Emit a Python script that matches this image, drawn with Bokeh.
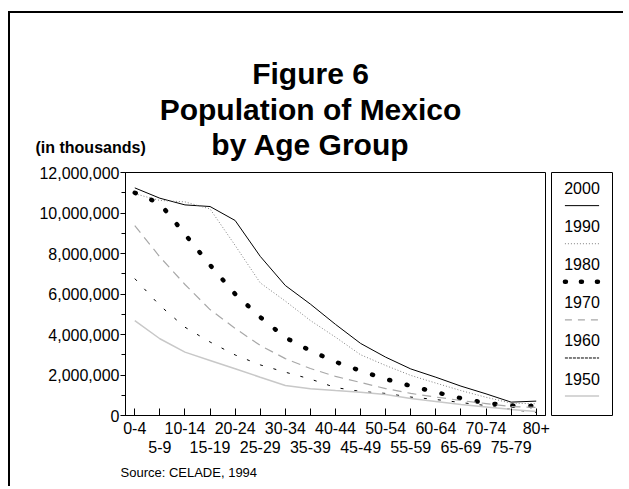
from bokeh.plotting import figure
from bokeh.layouts import row, column
from bokeh.models import LinearAxis, FixedTicker, NumeralTickFormatter, Range1d
from bokeh.core.properties import value
from bokeh.embed import file_html
from bokeh.resources import INLINE

# ---------------- data ----------------
age_groups = ["0-4", "5-9", "10-14", "15-19", "20-24", "25-29", "30-34", "35-39",
              "40-44", "45-49", "50-54", "55-59", "60-64", "65-69", "70-74", "75-79", "80+"]
years = ["2000", "1990", "1980", "1970", "1960", "1950"]

pop_2000 = [11240000, 10730000, 10400000, 10320000, 9630000, 7860000, 6420000, 5500000,
            4500000, 3560000, 2880000, 2300000, 1890000, 1450000, 1070000, 660000, 710000]
pop_1990 = [10950000, 10620000, 10550000, 10200000, 8400000, 6550000, 5650000, 4690000,
            3870000, 3000000, 2470000, 1980000, 1600000, 1230000, 900000, 610000, 580000]
pop_1980 = [11000000, 10470000, 8950000, 7430000, 6000000, 4860000, 3850000, 3200000,
            2650000, 2210000, 1800000, 1460000, 1150000, 850000, 610000, 490000, 460000]
pop_1970 = [9380000, 7830000, 6470000, 5230000, 4300000, 3460000, 2810000, 2320000,
            1930000, 1630000, 1330000, 1090000, 910000, 740000, 590000, 440000, 400000]
pop_1960 = [6760000, 5430000, 4360000, 3630000, 2990000, 2500000, 2140000, 1800000,
            1380000, 1190000, 1090000, 910000, 790000, 640000, 490000, 300000, 150000]
pop_1950 = [4690000, 3790000, 3130000, 2720000, 2310000, 1890000, 1480000, 1320000,
            1230000, 1150000, 1040000, 840000, 690000, 540000, 420000, 300000, 200000]

y_ticks = [0, 2000000, 4000000, 6000000, 8000000, 10000000, 12000000]
y_minor = [1000000, 3000000, 5000000, 7000000, 9000000, 11000000]

title_lines = ["Figure 6", "Population of Mexico", "by Age Group"]
unit_note = "(in thousands)"
source_note = "Source:  CELADE, 1994"

series = [pop_2000, pop_1990, pop_1980, pop_1970, pop_1960, pop_1950]
styles = [
    dict(line_color="black", line_width=1),
    dict(line_color="#808080", line_width=1, line_dash="1 2"),
    dict(line_color="black", line_width=4.5, line_dash="1 17", line_cap="round"),
    dict(line_color="#a8a8a8", line_width=1.2, line_dash="9 6"),
    dict(line_color="black", line_width=1, line_dash="3 11"),
    dict(line_color="#c8c8c8", line_width=1.5),
]
legend_styles = [
    dict(line_color="black", line_width=1),
    dict(line_color="#808080", line_width=1, line_dash="1 2"),
    dict(line_color="black", line_width=4.5, line_dash="1 15", line_cap="round"),
    dict(line_color="#a8a8a8", line_width=1.2, line_dash="7 6"),
    dict(line_color="black", line_width=1, line_dash="3 1"),
    dict(line_color="#c8c8c8", line_width=1.5),
]

FONT = "Liberation Sans"
x_idx = list(range(len(age_groups)))

# page-coordinate helpers (content origin is at page x=10, y=13)
X0, Y0 = 10, 13
HEAD_H, MAIN_H, FOOT_H = 152, 295, 26
TOTAL_W = 613


def blank(width, height, y_top):
    f = figure(width=width, height=height, x_range=Range1d(X0, X0 + width),
               y_range=Range1d(y_top + height, y_top), output_backend="svg",
               toolbar_location=None, x_axis_type=None, y_axis_type=None, min_border=0)
    f.min_border_left = f.min_border_right = f.min_border_top = f.min_border_bottom = 0
    f.xgrid.visible = False
    f.ygrid.visible = False
    f.outline_line_color = None
    return f


# ---------------- header ----------------
head = blank(TOTAL_W, HEAD_H, Y0)
head.text(x=[310] * 3, y=[73, 109, 144], text=title_lines, text_align="center",
          text_baseline="middle", text_font=value(FONT), text_font_size="30px",
          text_font_style="bold", text_color="black")
head.text(x=[35], y=[147], text=[unit_note], text_align="left", text_baseline="middle",
          text_font=value(FONT), text_font_size="16px", text_font_style="bold",
          text_color="black")

# ---------------- main plot ----------------
main_top = Y0 + HEAD_H  # 165
p = figure(width=540, height=MAIN_H, x_range=Range1d(-0.37, 16.37), y_range=Range1d(0, 12000000),
           output_backend="svg", toolbar_location=None,
           min_border_left=125 - X0, min_border_right=5,
           min_border_top=172 - main_top, min_border_bottom=(main_top + MAIN_H) - 415)
p.xgrid.visible = False
p.ygrid.visible = False
p.outline_line_color = "black"
p.outline_line_width = 1

for vals, st in zip(series, styles):
    p.line(x_idx, vals, **st)

xa = p.xaxis[0]
xa.ticker = FixedTicker(ticks=x_idx, minor_ticks=[])
xa.major_label_overrides = {i: (age_groups[i] if i % 2 == 0 else "") for i in x_idx}
xa.major_tick_in = 7
xa.major_tick_out = 0
xa.major_label_standoff = 6
xa.major_label_text_font = FONT
xa.major_label_text_font_size = "16px"
xa.major_label_text_color = "black"
xa.axis_line_color = "black"
xa.major_tick_line_color = "black"

xa2 = LinearAxis(ticker=FixedTicker(ticks=[i for i in x_idx if i % 2 == 1], minor_ticks=[]))
xa2.major_label_overrides = {i: age_groups[i] for i in x_idx if i % 2 == 1}
xa2.major_tick_in = 0
xa2.major_tick_out = 0
xa2.major_tick_line_color = None
xa2.axis_line_color = None
xa2.major_label_standoff = 4
xa2.major_label_text_font = FONT
xa2.major_label_text_font_size = "16px"
xa2.major_label_text_color = "black"
p.add_layout(xa2, "below")

ya = p.yaxis[0]
ya.ticker = FixedTicker(ticks=y_ticks, minor_ticks=y_minor)
ya.formatter = NumeralTickFormatter(format="0,0")
ya.major_tick_in = 0
ya.major_tick_out = 5
ya.minor_tick_in = 0
ya.minor_tick_out = 4
ya.major_label_standoff = 1
ya.major_label_text_font = FONT
ya.major_label_text_font_size = "16px"
ya.major_label_text_color = "black"
ya.axis_line_color = "black"
ya.major_tick_line_color = "black"
ya.minor_tick_line_color = "black"

# ---------------- legend panel ----------------
lg = figure(width=73, height=MAIN_H, x_range=Range1d(0, 1), y_range=Range1d(5.97, -0.41),
            output_backend="svg", toolbar_location=None, x_axis_type=None, y_axis_type=None,
            min_border_left=1, min_border_right=11,
            min_border_top=172 - main_top, min_border_bottom=(main_top + MAIN_H) - 421)
lg.xgrid.visible = False
lg.ygrid.visible = False
lg.outline_line_color = "black"
lg.outline_line_width = 1
leg_idx = list(range(len(years)))
lg.text(x=[0.5] * len(years), y=leg_idx, text=years, text_align="center",
        text_baseline="middle", text_font=value(FONT), text_font_size="16px", text_color="black")
for i, st in enumerate(legend_styles):
    lg.line([0.22, 0.78], [i + 0.46, i + 0.46], **st)

# ---------------- footer ----------------
foot = blank(TOTAL_W, FOOT_H, main_top + MAIN_H)
foot.text(x=[120], y=[472], text=[source_note], text_align="left", text_baseline="middle",
          text_font=value(FONT), text_font_size="13px", text_color="black")

layout = column(head, row(p, lg), foot,
                styles={"margin-left": "8px", "margin-top": "11px",
                        "border-left": "2px solid black", "border-top": "2px solid black"})

open("out.html", "w").write(file_html(layout, INLINE))
